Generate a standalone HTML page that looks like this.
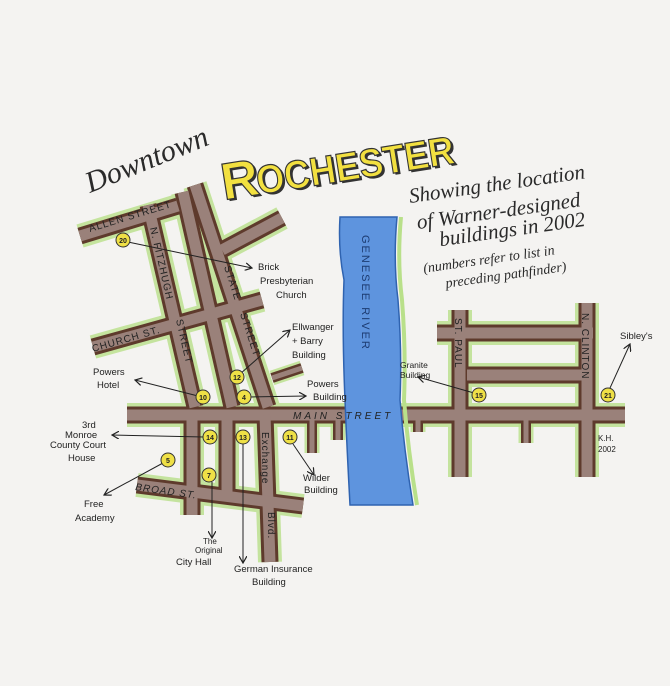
<!DOCTYPE html>
<html><head><meta charset="utf-8"><style>
html,body{margin:0;padding:0;background:#f4f3f1;}
svg{display:block}
text{font-family:"Liberation Sans",sans-serif;fill:#222}
.h,.h text{font-family:"Liberation Serif",serif;font-style:italic;fill:#2a2a2a}
.lb{font-size:9.5px}
.st{font-size:10px;letter-spacing:1px}
</style></head><body>
<svg width="670" height="686" viewBox="0 0 670 686" xmlns="http://www.w3.org/2000/svg">
<rect width="670" height="686" fill="#f4f3f1"/>
<defs>
<marker id="a" markerWidth="8" markerHeight="8" refX="7" refY="4" orient="auto"><path d="M0,0 L7,4 L0,8" fill="none" stroke="#222" stroke-width="1.2"/></marker>
<g id="roads">
<polyline points="127,415 625,415"/>
<polyline points="80,236 178,206"/>
<polyline points="148,205 195,407"/>
<polyline points="183,192 232,407"/>
<polyline points="195,185 268,407"/>
<polyline points="222,250 282,218"/>
<polyline points="93,347 262,300"/>
<polyline points="192,415 192,515"/>
<polyline points="227,415 227,500"/>
<polyline points="265,415 270,562"/>
<polyline points="137,485 303,506"/>
<polyline points="460,310 460,477"/>
<polyline points="587,303 587,477"/>
<polyline points="437,333 593,333"/>
<polyline points="467,375 582,375"/>
</g>
<g id="stubs">
<polyline points="272,378 302,368"/>
<polyline points="312,415 312,453"/>
<polyline points="338,415 338,440"/>
<polyline points="418,415 418,432"/>
<polyline points="526,415 526,443"/>
</g>
</defs>
<g fill="none" stroke="#b9e08a" stroke-width="24" opacity="0.8"><use href="#roads"/></g>
<g fill="none" stroke="#b9e08a" stroke-width="15" opacity="0.8"><use href="#stubs"/></g>
<g fill="none" stroke="#5e3a2c" stroke-width="17"><use href="#roads"/></g>
<g fill="none" stroke="#5e3a2c" stroke-width="10"><use href="#stubs"/></g>
<g fill="none" stroke="#9a817a" stroke-width="11"><use href="#roads"/></g>
<g fill="none" stroke="#9a817a" stroke-width="5"><use href="#stubs"/></g>
<path d="M340,217 L397,217 Q393,260 398,300 Q402,350 400,400 Q404,450 413,505 L350,505 Q347,450 345,400 Q342,330 344,280 Q338,250 340,217Z" fill="#5e94de" stroke="#2f63b0" stroke-width="1.5"/>
<path d="M397,217 Q393,260 398,300 Q402,350 400,400 Q404,450 413,505" fill="none" stroke="#b9e08a" stroke-width="4" transform="translate(4,0)"/>
<text transform="translate(362,235) rotate(90)" style="font-size:11px;letter-spacing:2px;fill:#1d3c72">GENESEE  RIVER</text>
<text class="h" transform="translate(90,193) rotate(-22)" style="font-size:30px">Downtown</text>
<g transform="translate(224,200) rotate(-9)" style="font-family:'Liberation Sans',sans-serif;font-weight:bold">
<text x="2" y="2" style="font-size:52px;fill:#333">R</text>
<text x="0" y="0" style="font-size:52px;fill:#f2e040;stroke:#333;stroke-width:1.2">R</text>
<text x="37" y="2" textLength="200" lengthAdjust="spacingAndGlyphs" style="font-size:40px;fill:#333">OCHESTER</text>
<text x="35" y="0" textLength="200" lengthAdjust="spacingAndGlyphs" style="font-size:40px;fill:#f2e040;stroke:#333;stroke-width:1.2">OCHESTER</text>
</g>
<g class="h" transform="rotate(-8 410 203)">
<text x="410" y="203" style="font-size:21px">Showing the location</text>
<text x="414" y="230" style="font-size:21px">of Warner-designed</text>
<text x="434" y="250" style="font-size:21px">buildings in 2002</text>
<text x="414" y="274" style="font-size:14px">(numbers refer to list in</text>
<text x="434" y="292" style="font-size:14px">preceding pathfinder)</text>
</g>
<text class="st" transform="translate(90,232) rotate(-17)">ALLEN STREET</text>
<text class="st" transform="translate(150,228) rotate(77)">N. FITZHUGH</text>
<text class="st" transform="translate(176,320) rotate(77)">STREET</text>
<text class="st" transform="translate(224,267) rotate(72)">STATE</text>
<text class="st" transform="translate(240,314) rotate(72)">STREET</text>
<text class="st" transform="translate(93,352) rotate(-16)">CHURCH ST.</text>
<text class="st" x="293" y="419" style="font-style:italic;letter-spacing:3px">MAIN   STREET</text>
<text class="st" transform="translate(135,490) rotate(8)" style="font-style:italic">BROAD  ST.</text>
<text class="st" transform="translate(262,432) rotate(90)">Exchange</text>
<text class="st" transform="translate(268,512) rotate(90)">Blvd.</text>
<text class="st" transform="translate(455,318) rotate(90)">ST. PAUL</text>
<text class="st" transform="translate(582,313) rotate(90)">N. CLINTON</text>
<g stroke="#222" stroke-width="1" fill="none">
<line x1="128" y1="242" x2="252" y2="268" marker-end="url(#a)"/>
<line x1="240" y1="374" x2="290" y2="330" marker-end="url(#a)"/>
<line x1="250" y1="397" x2="306" y2="396" marker-end="url(#a)"/>
<line x1="198" y1="396" x2="135" y2="380" marker-end="url(#a)"/>
<line x1="204" y1="437" x2="112" y2="435" marker-end="url(#a)"/>
<line x1="163" y1="463" x2="104" y2="495" marker-end="url(#a)"/>
<line x1="212" y1="482" x2="212" y2="538" marker-end="url(#a)"/>
<line x1="243" y1="444" x2="243" y2="563" marker-end="url(#a)"/>
<line x1="293" y1="444" x2="314" y2="475" marker-end="url(#a)"/>
<line x1="474" y1="393" x2="418" y2="377" marker-end="url(#a)"/>
<line x1="610" y1="388" x2="630" y2="344" marker-end="url(#a)"/>
</g>
<g style="font-size:7px;font-weight:bold" text-anchor="middle">
<g fill="#efe046" stroke="#333" stroke-width="1">
<circle cx="123" cy="240" r="7"/><circle cx="237" cy="377" r="7"/><circle cx="244" cy="397" r="7"/>
<circle cx="203" cy="397" r="7"/><circle cx="210" cy="437" r="7"/><circle cx="243" cy="437" r="7"/>
<circle cx="290" cy="437" r="7"/><circle cx="168" cy="460" r="7"/><circle cx="209" cy="475" r="7"/>
<circle cx="479" cy="395" r="7"/><circle cx="608" cy="395" r="7"/>
</g>
<text x="123" y="243">20</text><text x="237" y="380">12</text><text x="244" y="400">4</text>
<text x="203" y="400">10</text><text x="210" y="440">14</text><text x="243" y="440">13</text>
<text x="290" y="440">11</text><text x="168" y="463">5</text><text x="209" y="478">7</text>
<text x="479" y="398">15</text><text x="608" y="398">21</text>
</g>
<g class="lb">
<text x="258" y="270">Brick</text><text x="260" y="284">Presbyterian</text><text x="276" y="298">Church</text>
<text x="292" y="330">Ellwanger</text><text x="292" y="344">+ Barry</text><text x="292" y="358">Building</text>
<text x="307" y="387">Powers</text><text x="313" y="400">Building</text>
<text x="93" y="375">Powers</text><text x="97" y="388">Hotel</text>
<text x="82" y="428">3rd</text><text x="65" y="438">Monroe</text><text x="50" y="448">County Court</text><text x="68" y="461">House</text>
<text x="84" y="507">Free</text><text x="75" y="521">Academy</text>
<text x="303" y="481">Wilder</text><text x="304" y="493">Building</text>
<text x="203" y="544" style="font-size:8px">The</text><text x="195" y="553" style="font-size:8px">Original</text><text x="176" y="565">City Hall</text>
<text x="234" y="572">German Insurance</text><text x="252" y="585">Building</text>
<text x="400" y="368" style="font-size:8.5px">Granite</text><text x="400" y="378" style="font-size:8.5px">Building</text>
<text x="620" y="339">Sibley's</text>
<text x="598" y="441" style="font-size:8px">K.H.</text><text x="598" y="452" style="font-size:8px">2002</text>
</g>
</svg>
</body></html>
